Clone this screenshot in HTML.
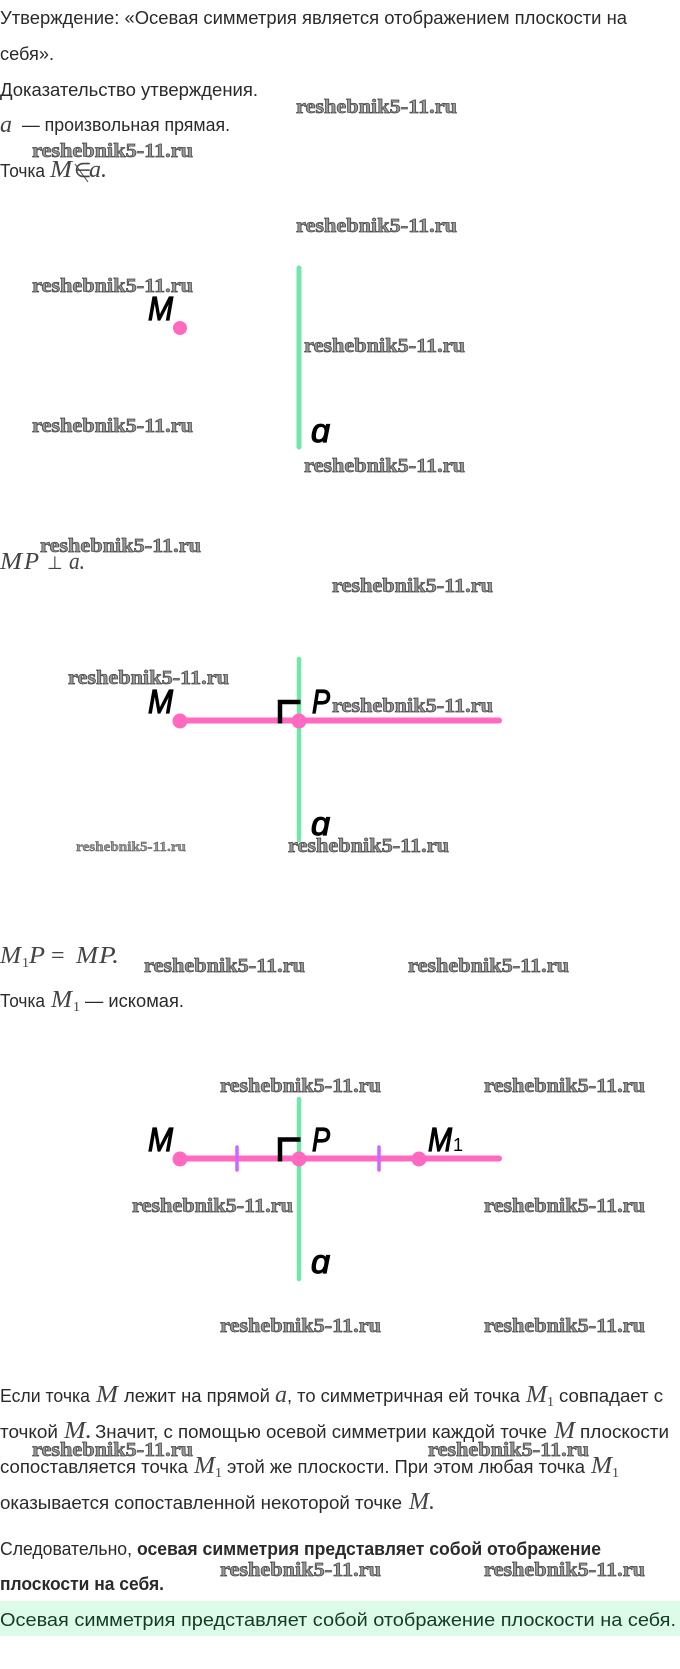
<!DOCTYPE html>
<html><head><meta charset="utf-8">
<style>
html,body{margin:0;padding:0;background:#fff}
svg{display:block}
.t{font-family:"Liberation Sans",sans-serif;font-size:18px;fill:#2a2a2a}
.b{font-weight:bold}
.m{font-family:"Liberation Serif",serif;font-style:italic;font-size:24px;fill:#444}
.n{font-family:"Liberation Serif",serif;font-size:14px;fill:#444}
.w{font-family:"Liberation Serif",serif;font-weight:bold;font-size:20px;fill:#999;stroke:#444;stroke-width:.7}
.l{font-family:"Liberation Sans",sans-serif;font-style:italic;font-size:33px;fill:#000;stroke:#000;stroke-width:1.2}
</style></head>
<body>
<svg width="680" height="1669" viewBox="0 0 680 1669" xmlns="http://www.w3.org/2000/svg">
<rect width="680" height="1669" fill="#fff"/>
<rect x="0" y="1601" width="680" height="35" fill="#dcfbe9"/>

<text class="t" x="0" y="24" textLength="627" lengthAdjust="spacingAndGlyphs">Утверждение: «Осевая симметрия является отображением плоскости на</text>
<text class="t" x="0" y="60" textLength="54" lengthAdjust="spacingAndGlyphs">себя».</text>
<text class="t" x="0" y="96" textLength="258" lengthAdjust="spacingAndGlyphs">Доказательство утверждения.</text>
<text class="m" x="0" y="132">a</text>
<text class="t" x="22" y="131" textLength="208" lengthAdjust="spacingAndGlyphs">— произвольная прямая.</text>
<text class="t" x="0" y="177" textLength="45" lengthAdjust="spacingAndGlyphs">Точка</text>
<text class="m" x="50" y="177" textLength="22" lengthAdjust="spacingAndGlyphs">M</text>
<text class="m" x="74" y="177" style="font-style:normal;font-size:20px">∈</text>
<line x1="75" y1="164" x2="88" y2="182" stroke="#444" stroke-width="1"/>
<text class="m" x="89" y="177">a.</text>

<text class="m" x="0" y="569" textLength="22" lengthAdjust="spacingAndGlyphs">M</text>
<text class="m" x="24" y="569" textLength="15" lengthAdjust="spacingAndGlyphs">P</text>
<text x="47" y="569" font-family="DejaVu Sans, sans-serif" font-size="18" fill="#444">⊥</text>
<text class="m" x="69" y="569" textLength="16" lengthAdjust="spacingAndGlyphs">a.</text>

<text class="m" x="0" y="963" textLength="21" lengthAdjust="spacingAndGlyphs">M</text><text class="n" x="22" y="967">1</text>
<text class="m" x="29" y="963" textLength="16" lengthAdjust="spacingAndGlyphs">P</text>
<text x="51" y="963" font-family="Liberation Serif, serif" font-size="24" fill="#444">=</text>
<text class="m" x="76" y="963" textLength="22" lengthAdjust="spacingAndGlyphs">M</text>
<text class="m" x="99" y="963" textLength="20" lengthAdjust="spacingAndGlyphs">P.</text>
<text class="t" x="0" y="1007" textLength="45" lengthAdjust="spacingAndGlyphs">Точка</text>
<text class="m" x="51" y="1007" textLength="21" lengthAdjust="spacingAndGlyphs">M</text><text class="n" x="73" y="1011">1</text>
<text class="t" x="85" y="1007" textLength="99" lengthAdjust="spacingAndGlyphs">— искомая.</text>

<text class="t" x="0" y="1402" textLength="90" lengthAdjust="spacingAndGlyphs">Если точка</text>
<text class="m" x="96" y="1402" textLength="22" lengthAdjust="spacingAndGlyphs">M</text>
<text class="t" x="124" y="1402" textLength="146" lengthAdjust="spacingAndGlyphs">лежит на прямой</text>
<text class="m" x="275" y="1402">a</text>
<text class="t" x="287" y="1402" textLength="233" lengthAdjust="spacingAndGlyphs">, то симметричная ей точка</text>
<text class="m" x="526" y="1402" textLength="21" lengthAdjust="spacingAndGlyphs">M</text><text class="n" x="547" y="1406">1</text>
<text class="t" x="559" y="1402" textLength="104" lengthAdjust="spacingAndGlyphs">совпадает с</text>

<text class="t" x="0" y="1438" textLength="58" lengthAdjust="spacingAndGlyphs">точкой</text>
<text class="m" x="64" y="1438" textLength="28" lengthAdjust="spacingAndGlyphs">M.</text>
<text class="t" x="95" y="1438" textLength="452" lengthAdjust="spacingAndGlyphs">Значит, с помощью осевой симметрии каждой точке</text>
<text class="m" x="554" y="1438" textLength="21" lengthAdjust="spacingAndGlyphs">M</text>
<text class="t" x="580" y="1438" textLength="89" lengthAdjust="spacingAndGlyphs">плоскости</text>

<text class="t" x="0" y="1473" textLength="188" lengthAdjust="spacingAndGlyphs">сопоставляется точка</text>
<text class="m" x="194" y="1473" textLength="21" lengthAdjust="spacingAndGlyphs">M</text><text class="n" x="215" y="1477">1</text>
<text class="t" x="227" y="1473" textLength="358" lengthAdjust="spacingAndGlyphs">этой же плоскости. При этом любая точка</text>
<text class="m" x="591" y="1473" textLength="21" lengthAdjust="spacingAndGlyphs">M</text><text class="n" x="612" y="1477">1</text>

<text class="t" x="0" y="1509" textLength="402" lengthAdjust="spacingAndGlyphs">оказывается сопоставленной некоторой точке</text>
<text class="m" x="409" y="1509" textLength="26" lengthAdjust="spacingAndGlyphs">M.</text>

<text class="t" x="0" y="1555" textLength="132" lengthAdjust="spacingAndGlyphs">Следовательно,</text>
<text class="t b" x="137" y="1555" textLength="464" lengthAdjust="spacingAndGlyphs">осевая симметрия представляет собой отображение</text>
<text class="t b" x="0" y="1590" textLength="164" lengthAdjust="spacingAndGlyphs">плоскости на себя.</text>
<text class="t" x="0" y="1626" textLength="676" lengthAdjust="spacingAndGlyphs" style="fill:#143a28">Осевая симметрия представляет собой отображение плоскости на себя.</text>

<!-- diagram 1 -->
<line x1="299" y1="268" x2="299" y2="447" stroke="#72e8a8" stroke-width="5" stroke-linecap="round"/>
<circle cx="180" cy="328" r="7" fill="#ff69c0"/>
<text class="l" x="148" y="320" textLength="25" lengthAdjust="spacingAndGlyphs">M</text>
<text class="l" x="311" y="442" textLength="19" lengthAdjust="spacingAndGlyphs">ɑ</text>

<!-- diagram 2 -->
<line x1="299" y1="659" x2="299" y2="840" stroke="#72e8a8" stroke-width="4.5" stroke-linecap="round"/>
<line x1="180" y1="720.5" x2="499" y2="720.5" stroke="#ff69c0" stroke-width="6" stroke-linecap="round"/>
<path d="M280 723.5V702H300.5" fill="none" stroke="#000" stroke-width="4.5"/>
<circle cx="180" cy="721" r="7.5" fill="#ff69c0"/>
<circle cx="299" cy="721" r="7.5" fill="#ff69c0"/>
<text class="l" x="148" y="713" textLength="25" lengthAdjust="spacingAndGlyphs">M</text>
<text class="l" x="312" y="713" textLength="18" lengthAdjust="spacingAndGlyphs">P</text>
<text class="l" x="311" y="835" textLength="19" lengthAdjust="spacingAndGlyphs">ɑ</text>

<!-- diagram 3 -->
<line x1="299" y1="1099" x2="299" y2="1279" stroke="#72e8a8" stroke-width="4.5" stroke-linecap="round"/>
<line x1="180" y1="1158.5" x2="499" y2="1158.5" stroke="#ff69c0" stroke-width="6" stroke-linecap="round"/>
<line x1="237" y1="1147" x2="237" y2="1170" stroke="#cc66ff" stroke-width="3.5" stroke-linecap="round"/>
<line x1="379" y1="1147" x2="379" y2="1170" stroke="#cc66ff" stroke-width="3.5" stroke-linecap="round"/>
<path d="M280 1161.5V1139.5H300.5" fill="none" stroke="#000" stroke-width="4.5"/>
<circle cx="180" cy="1159" r="7.5" fill="#ff69c0"/>
<circle cx="299" cy="1159" r="7.5" fill="#ff69c0"/>
<circle cx="419" cy="1159" r="7.5" fill="#ff69c0"/>
<text class="l" x="148" y="1151" textLength="25" lengthAdjust="spacingAndGlyphs">M</text>
<text class="l" x="312" y="1151" textLength="18" lengthAdjust="spacingAndGlyphs">P</text>
<text class="l" x="428" y="1151" textLength="24" lengthAdjust="spacingAndGlyphs">M</text>
<text x="453" y="1151" font-family="Liberation Sans, sans-serif" font-size="18" fill="#000">1</text>
<text class="l" x="311" y="1273" textLength="19" lengthAdjust="spacingAndGlyphs">ɑ</text>

<!-- watermarks -->
<g>
<text class="w" x="296" y="113" textLength="161" lengthAdjust="spacingAndGlyphs">reshebnik5-11.ru</text>
<text class="w" x="32" y="157" textLength="161" lengthAdjust="spacingAndGlyphs">reshebnik5-11.ru</text>
<text class="w" x="296" y="232" textLength="161" lengthAdjust="spacingAndGlyphs">reshebnik5-11.ru</text>
<text class="w" x="32" y="292" textLength="161" lengthAdjust="spacingAndGlyphs">reshebnik5-11.ru</text>
<text class="w" x="304" y="352" textLength="161" lengthAdjust="spacingAndGlyphs">reshebnik5-11.ru</text>
<text class="w" x="32" y="432" textLength="161" lengthAdjust="spacingAndGlyphs">reshebnik5-11.ru</text>
<text class="w" x="304" y="472" textLength="161" lengthAdjust="spacingAndGlyphs">reshebnik5-11.ru</text>
<text class="w" x="40" y="552" textLength="161" lengthAdjust="spacingAndGlyphs">reshebnik5-11.ru</text>
<text class="w" x="332" y="592" textLength="161" lengthAdjust="spacingAndGlyphs">reshebnik5-11.ru</text>
<text class="w" x="68" y="684" textLength="161" lengthAdjust="spacingAndGlyphs">reshebnik5-11.ru</text>
<text class="w" x="332" y="712" textLength="161" lengthAdjust="spacingAndGlyphs">reshebnik5-11.ru</text>
<text class="w" x="76" y="851" textLength="110" lengthAdjust="spacingAndGlyphs" style="font-size:14px;stroke-width:.4">reshebnik5-11.ru</text>
<text class="w" x="288" y="852" textLength="161" lengthAdjust="spacingAndGlyphs">reshebnik5-11.ru</text>
<text class="w" x="144" y="972" textLength="161" lengthAdjust="spacingAndGlyphs">reshebnik5-11.ru</text>
<text class="w" x="408" y="972" textLength="161" lengthAdjust="spacingAndGlyphs">reshebnik5-11.ru</text>
<text class="w" x="220" y="1092" textLength="161" lengthAdjust="spacingAndGlyphs">reshebnik5-11.ru</text>
<text class="w" x="484" y="1092" textLength="161" lengthAdjust="spacingAndGlyphs">reshebnik5-11.ru</text>
<text class="w" x="132" y="1212" textLength="161" lengthAdjust="spacingAndGlyphs">reshebnik5-11.ru</text>
<text class="w" x="484" y="1212" textLength="161" lengthAdjust="spacingAndGlyphs">reshebnik5-11.ru</text>
<text class="w" x="220" y="1332" textLength="161" lengthAdjust="spacingAndGlyphs">reshebnik5-11.ru</text>
<text class="w" x="484" y="1332" textLength="161" lengthAdjust="spacingAndGlyphs">reshebnik5-11.ru</text>
<text class="w" x="32" y="1456" textLength="161" lengthAdjust="spacingAndGlyphs">reshebnik5-11.ru</text>
<text class="w" x="428" y="1456" textLength="161" lengthAdjust="spacingAndGlyphs">reshebnik5-11.ru</text>
<text class="w" x="220" y="1576" textLength="161" lengthAdjust="spacingAndGlyphs">reshebnik5-11.ru</text>
<text class="w" x="484" y="1576" textLength="161" lengthAdjust="spacingAndGlyphs">reshebnik5-11.ru</text>
</g>
</svg>
</body></html>
